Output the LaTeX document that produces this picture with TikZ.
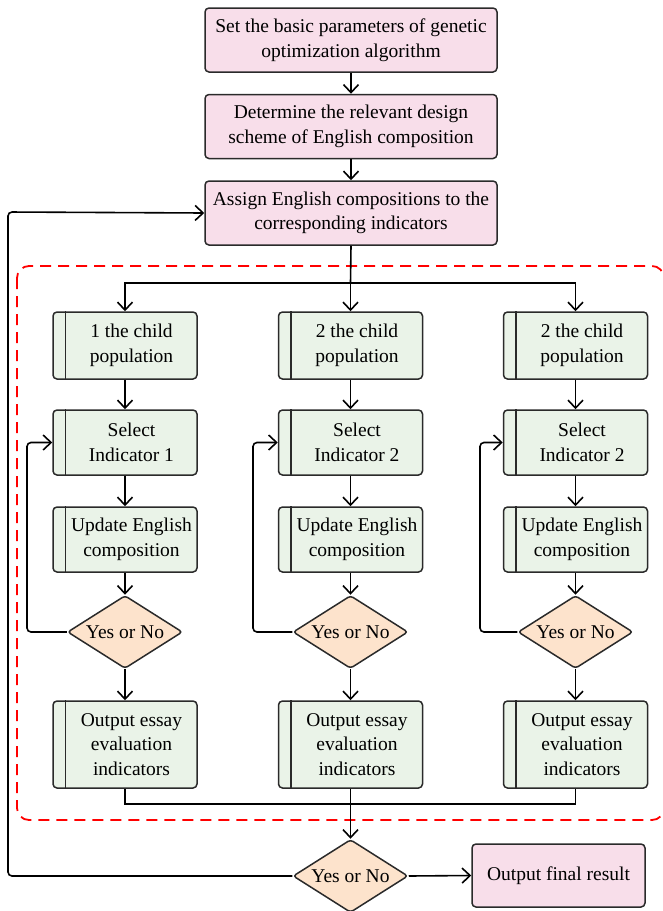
\documentclass[tikz,border=0pt]{standalone}
\usepackage{fontspec}
\setmainfont{Liberation Serif}
\usetikzlibrary{shapes.geometric,arrows.meta}
\definecolor{pinkfill}{HTML}{F8DEEA}
\definecolor{greenfill}{HTML}{EAF3E8}
\definecolor{orangefill}{HTML}{FDE3CC}
\definecolor{edge}{HTML}{2A2A2A}
\tikzset{
  base/.style={draw=edge, line width=1.5pt, rounded corners=4pt, font=\fontsize{19.5}{24.5}\selectfont, align=center, inner sep=0pt},
  pbox/.style={base, rectangle, fill=pinkfill, minimum width=292pt, minimum height=64pt},
  gbox/.style={base, rectangle, fill=greenfill, minimum width=144pt},
  gtext/.style={font=\fontsize{19.5}{24.5}\selectfont, align=center, inner sep=0pt},
  dbox/.style={base, diamond, fill=orangefill, aspect=1.6, minimum width=115pt, minimum height=73pt, rounded corners=3pt},
  conn/.style={line width=1.6pt, draw=black, -{Straight Barb[length=8pt,width=15pt,line width=1.6pt]}},
  line/.style={line width=1.6pt, draw=black},
  redbox/.style={draw=red, line width=1.8pt, dash pattern=on 11pt off 7pt, rounded corners=12pt}
}
\newcommand{\gnode}[5]{%
  \node[gbox, minimum height=#4pt] (#1) at (#2pt,-#3pt) {};
  \draw[line width=1.5pt, draw=edge] ([xshift=13pt]#1.north west) -- ([xshift=13pt]#1.south west);
  \node[gtext] (#1t) at ([xshift=6.5pt]#1.center) {#5};
}
\begin{document}
\begin{tikzpicture}[x=1pt,y=1pt]
\useasboundingbox (0,0) rectangle (662,-911);
\begin{scope}
\clip (0,0) rectangle (662,-911);
\draw[redbox] (17,-266) rectangle (664,-820);
\end{scope}

\node[pbox] (p1) at (351,-40) {Set the basic parameters of genetic\\optimization algorithm};
\node[pbox] (p2) at (351,-126.5) {Determine the relevant design\\scheme of English composition};
\node[pbox] (p3) at (351,-213) {Assign English compositions to the\\corresponding indicators};

\draw[conn] (p1) -- (p2);
\draw[conn] (p2) -- (p3);

% columns
\gnode{c1}{125}{345.5}{67}{1 the child\\population}
\gnode{c2}{350.5}{345.5}{67}{2 the child\\population}
\gnode{c3}{575.5}{345.5}{67}{2 the child\\population}

\gnode{s1}{125}{442.5}{65}{Select\\Indicator 1}
\gnode{s2}{350.5}{442.5}{65}{Select\\Indicator 2}
\gnode{s3}{575.5}{442.5}{65}{Select\\Indicator 2}

\gnode{u1}{125}{539.5}{65}{Update English\\composition}
\gnode{u2}{350.5}{539.5}{65}{Update English\\composition}
\gnode{u3}{575.5}{539.5}{65}{Update English\\composition}

\node[dbox] (d1) at (125,-632) {Yes or No};
\node[dbox] (d2) at (350.5,-632) {Yes or No};
\node[dbox] (d3) at (575.5,-632) {Yes or No};

\gnode{o1}{125}{744.5}{87}{Output essay\\evaluation\\indicators}
\gnode{o2}{350.5}{744.5}{87}{Output essay\\evaluation\\indicators}
\gnode{o3}{575.5}{744.5}{87}{Output essay\\evaluation\\indicators}

\node[dbox] (fd) at (350.5,-876) {Yes or No};
\node[base, rectangle, fill=pinkfill, minimum width=173pt, minimum height=63pt] (fr) at (558.5,-875.5) {Output final result};

% split
\coordinate (sp) at (350.5,-283);
\draw[line] (p3.south) -- (sp);
\draw[conn] (sp) -| (c1.north);
\draw[conn] (sp) -- (c2.north);
\draw[conn] (sp) -| (c3.north);

\foreach \i/\fx in {1/27,2/253,3/480}{
  \draw[conn] (c\i) -- (s\i);
  \draw[conn] (s\i) -- (u\i);
  \draw[conn] (u\i) -- (d\i);
  \draw[conn] (d\i) -- (o\i);
  \draw[conn, rounded corners=4pt] (d\i.west) -- (\fx,-632) -- (\fx,-442.5) -- (s\i.west);
}

% merge
\coordinate (mg) at (350.5,-804);
\draw[line] (o1.south) |- (mg);
\draw[line] (o3.south) |- (mg);
\draw[line] (o2.south) -- (mg);
\draw[conn] (mg) -- (fd.north);

\draw[conn] (fd.east) -- (fr.west);
\draw[conn, rounded corners=4pt] (fd.west) -- (8,-876) -- (8,-212) -- (p3.west);
\end{tikzpicture}
\end{document}
